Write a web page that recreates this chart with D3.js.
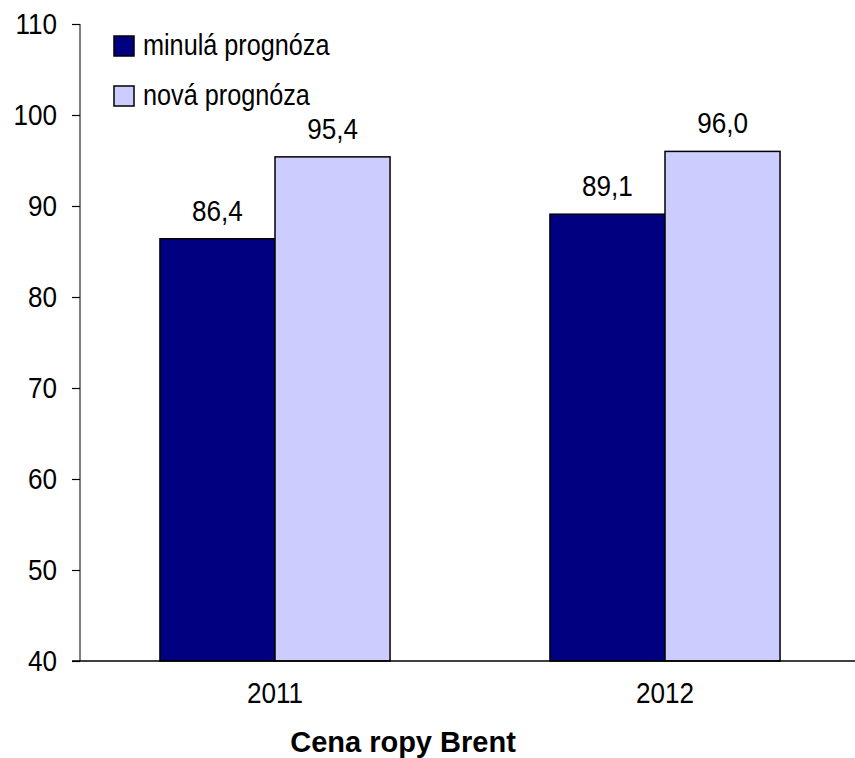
<!DOCTYPE html>
<html>
<head>
<meta charset="utf-8">
<script src="https://cdn.jsdelivr.net/npm/d3@7"></script>
<style>
  html, body { margin: 0; padding: 0; background: #fff; }
  svg { display: block; font-family: "Liberation Sans", Arial, sans-serif; }
</style>
</head>
<body>
<svg id="chart" width="855" height="758"></svg>
<script>
// Brent oil price forecasts (USD per barrel)
const years = ["2011", "2012"];
const seriesNames = ["minulá prognóza", "nová prognóza"];
const previousForecast = [86.4, 89.1];
const newForecast = [95.4, 96.0];
const yTicks = [40, 50, 60, 70, 80, 90, 100, 110];
const seriesColors = ["#000080", "#CCCCFF"];
const axisTitle = "Cena ropy Brent";

const svg = d3.select("#chart");
const plotLeft = 80, plotRight = 860, plotTop = 24, plotBottom = 661;
const fontSize = 29, squeeze = 0.9;   // slightly condensed text face

const x0 = d3.scaleBand().domain(years).range([plotLeft, plotRight]).paddingInner(0.41).paddingOuter(0.205);
const x1 = d3.scaleBand().domain(seriesNames).range([0, x0.bandwidth()]);
const y = d3.scaleLinear().domain([40, 110]).range([plotBottom, plotTop]);

const fmt = v => d3.format(".1f")(v).replace(".", ",");

const rows = years.map((yr, i) => ({
  year: yr,
  values: [
    { name: seriesNames[0], value: previousForecast[i], color: seriesColors[0] },
    { name: seriesNames[1], value: newForecast[i], color: seriesColors[1] }
  ]
}));

// Bars
const groups = svg.append("g").selectAll("g").data(rows).join("g")
  .attr("transform", d => `translate(${x0(d.year)},0)`);

groups.selectAll("rect").data(d => d.values).join("rect")
  .attr("x", d => x1(d.name))
  .attr("y", d => y(d.value))
  .attr("width", x1.bandwidth())
  .attr("height", d => y(40) - y(d.value))
  .attr("fill", d => d.color)
  .attr("stroke", "#000")
  .attr("stroke-width", 1.5);

// Value labels
groups.selectAll("text").data(d => d.values).join("text")
  .attr("transform", d => `translate(${x1(d.name) + x1.bandwidth() / 2},${y(d.value) - 18}) scale(${squeeze},1)`)
  .attr("text-anchor", "middle")
  .attr("font-size", fontSize)
  .attr("fill", "#000")
  .text(d => fmt(d.value));

// Y axis
const yAxis = svg.append("g")
  .attr("transform", `translate(${plotLeft},0)`)
  .call(d3.axisLeft(y).tickValues(yTicks).tickSize(8).tickPadding(15).tickFormat(d3.format("d")));
yAxis.select(".domain").attr("stroke", "#808080").attr("stroke-width", 2).attr("d", `M0,${plotTop}V${plotBottom}`);
yAxis.selectAll(".tick line").attr("stroke", "#000").attr("stroke-width", 1.2);
yAxis.selectAll(".tick text")
  .attr("font-size", fontSize)
  .attr("font-family", "Liberation Sans, Arial, sans-serif")
  .attr("fill", "#000")
  .attr("x", -23 / squeeze)
  .attr("dy", "0.34em")
  .attr("transform", `scale(${squeeze},1)`);

// X axis
const xAxis = svg.append("g")
  .attr("transform", `translate(0,${plotBottom})`)
  .call(d3.axisBottom(x0).tickSize(0).tickPadding(21));
xAxis.select(".domain").attr("stroke", "#000").attr("stroke-width", 1.5).attr("d", `M72,0H${plotRight}`);
xAxis.selectAll(".tick text")
  .attr("font-size", fontSize)
  .attr("font-family", "Liberation Sans, Arial, sans-serif")
  .attr("fill", "#000")
  .attr("transform", `scale(${squeeze},1)`);

// Axis title
svg.append("text")
  .attr("x", 403)
  .attr("y", 752)
  .attr("text-anchor", "middle")
  .attr("font-size", 29)
  .attr("font-weight", "bold")
  .attr("fill", "#000")
  .text(axisTitle);

// Legend
const legend = svg.append("g").selectAll("g").data(seriesNames).join("g")
  .attr("transform", (d, i) => `translate(114,${36 + i * 50})`);
legend.append("rect")
  .attr("width", 20).attr("height", 20)
  .attr("fill", (d, i) => seriesColors[i])
  .attr("stroke", "#000").attr("stroke-width", 1.5);
legend.append("text")
  .attr("transform", "translate(29,19) scale(0.87,1)")
  .attr("font-size", fontSize)
  .attr("fill", "#000")
  .text(d => d);
</script>
</body>
</html>
